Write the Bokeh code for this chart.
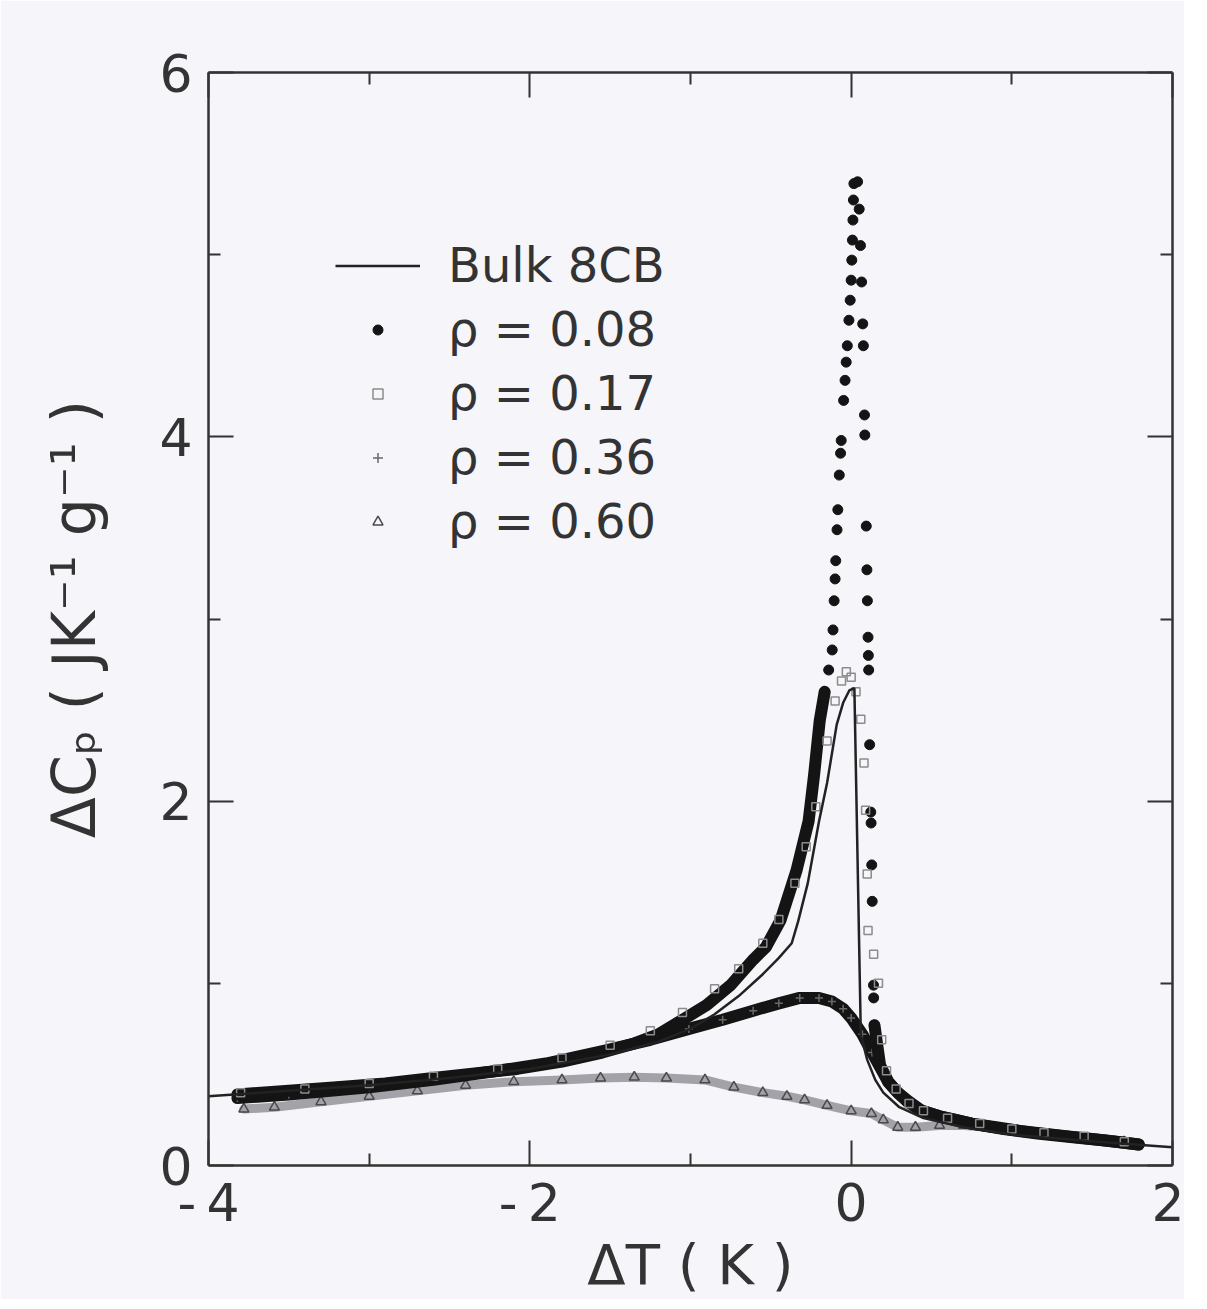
import numpy as np
from bokeh.plotting import figure
from bokeh.models import LinearAxis, FixedTicker, Legend, LegendItem, Range1d
from bokeh.embed import file_html
from bokeh.resources import INLINE

# ---------------- data ----------------
X_BULK = [-4.0, -3.5, -3.0, -2.5, -2.0, -1.5, -1.2, -1.0, -0.85, -0.7, -0.55, -0.45, -0.37, -0.33,
          -0.27, -0.2, -0.15, -0.09, -0.05, -0.01, 0.02, 0.06, 0.10, 0.15, 0.2, 0.3, 0.45, 0.7,
          1.0, 1.4, 1.7, 2.0]
Y_BULK = [0.38, 0.41, 0.44, 0.48, 0.53, 0.61, 0.68, 0.75, 0.83, 0.93, 1.05, 1.14, 1.22, 1.34,
          1.55, 1.89, 2.10, 2.42, 2.54, 2.61, 2.62, 0.72, 0.58, 0.47, 0.40, 0.32, 0.26, 0.21,
          0.17, 0.14, 0.12, 0.10]

X_008 = [-3.82, -3.5, -3.2, -2.9, -2.6, -2.3, -2.08, -1.8, -1.55, -1.35, -1.2, -1.05, -0.9, -0.75,
         -0.61, -0.53, -0.44, -0.34, -0.265, -0.23, -0.196, -0.165, -0.14,
         -0.118, -0.113, -0.106, -0.100, -0.096, -0.088, -0.083, -0.074, -0.066, -0.062, -0.047,
         -0.038, -0.031, -0.024, -0.014, -0.006, 0.000, 0.004, 0.008, 0.011, 0.014, 0.017,
         0.04, 0.05, 0.058, 0.065, 0.072, 0.076, 0.083, 0.085, 0.094, 0.098, 0.101, 0.105, 0.107,
         0.109, 0.115, 0.122, 0.124, 0.128, 0.131, 0.139, 0.14, 0.145,
         0.18, 0.23, 0.29, 0.36, 0.44, 0.55, 0.65, 0.75, 0.9, 1.05, 1.2, 1.35, 1.5, 1.65, 1.79]
Y_008 = [0.39, 0.41, 0.43, 0.45, 0.48, 0.51, 0.53, 0.57, 0.62, 0.67, 0.72, 0.80, 0.88, 0.99,
         1.13, 1.20, 1.345, 1.62, 1.89, 2.15, 2.44, 2.60, 2.72,
         2.83, 2.94, 3.10, 3.22, 3.32, 3.49, 3.60, 3.79, 3.91, 3.98, 4.20,
         4.31, 4.41, 4.50, 4.64, 4.75, 4.86, 4.97, 5.08, 5.19, 5.30, 5.39,
         5.40, 5.25, 5.05, 4.85, 4.62, 4.50, 4.12, 4.01, 3.51, 3.27, 3.10, 2.90, 2.80,
         2.72, 2.31, 1.94, 1.88, 1.65, 1.45, 0.99, 0.92, 0.77,
         0.55, 0.46, 0.40, 0.35, 0.30, 0.27, 0.25, 0.23, 0.21, 0.19, 0.175, 0.16, 0.145, 0.13, 0.115]

X_017 = [-3.80, -3.4, -3.0, -2.6, -2.2, -1.8, -1.5, -1.25, -1.05, -0.85, -0.7, -0.55, -0.45, -0.35,
         -0.28, -0.22, -0.15, -0.1, -0.06, -0.03, 0.0, 0.03, 0.06, 0.08, 0.09, 0.1, 0.105, 0.14,
         0.17, 0.19, 0.22, 0.28, 0.36, 0.45, 0.6, 0.8, 1.0, 1.2, 1.45, 1.7]
Y_017 = [0.40, 0.42, 0.45, 0.49, 0.53, 0.59, 0.66, 0.74, 0.84, 0.97, 1.08, 1.22, 1.35, 1.55,
         1.75, 1.97, 2.33, 2.55, 2.66, 2.71, 2.68, 2.60, 2.45, 2.21, 1.95, 1.60, 1.29, 1.16,
         1.00, 0.69, 0.52, 0.42, 0.34, 0.30, 0.26, 0.23, 0.20, 0.18, 0.16, 0.13]

X_036 = [-3.82, -3.5, -3.0, -2.6, -2.2, -1.9, -1.54, -1.25, -1.01, -0.8, -0.61, -0.45, -0.32, -0.2,
         -0.12, -0.05, 0.0, 0.07, 0.13, 0.18, 0.23, 0.29, 0.35, 0.44, 0.55, 0.75, 0.95, 1.16,
         1.38, 1.58, 1.79]
Y_036 = [0.37, 0.39, 0.43, 0.47, 0.52, 0.56, 0.63, 0.69, 0.75, 0.80, 0.85, 0.89, 0.92, 0.92,
         0.90, 0.86, 0.81, 0.72, 0.62, 0.54, 0.46, 0.40, 0.35, 0.30, 0.27, 0.23, 0.20, 0.176,
         0.155, 0.137, 0.115]

X_060 = [-3.78, -3.59, -3.3, -3.0, -2.7, -2.4, -2.1, -1.8, -1.56, -1.35, -1.15, -0.91, -0.73, -0.55,
         -0.4, -0.29, -0.15, 0.0, 0.126, 0.2, 0.29, 0.4, 0.55, 0.7, 0.85, 1.0, 1.2, 1.45, 1.7]
Y_060 = [0.31, 0.32, 0.35, 0.38, 0.41, 0.44, 0.46, 0.47, 0.48, 0.485, 0.48, 0.47, 0.43, 0.40,
         0.38, 0.36, 0.33, 0.30, 0.285, 0.25, 0.21, 0.21, 0.22, 0.22, 0.21, 0.19, 0.17, 0.15, 0.13]

X_TICKS = [-4, -2, 0, 2]
X_MINOR = [-3, -1, 1]
Y_TICKS = [0, 2, 4, 6]
Y_MINOR = [1, 3, 5]
X_TICK_LABELS = {-4: "-\u20094", -2: "-\u20092", 0: "0", 2: "2"}
LEGEND_LABELS = ["Bulk 8CB", "\u03c1 = 0.08", "\u03c1 = 0.17", "\u03c1 = 0.36", "\u03c1 = 0.60"]

# ---------------- figure ----------------
BG = "#f5f5fa"
INK = "#333333"
FONT = "DejaVu Sans"

p = figure(x_range=Range1d(-4, 2), y_range=Range1d(0, 6),
           frame_width=964, frame_height=1093,
           min_border_left=208, min_border_right=12, min_border_top=72, min_border_bottom=0,
           output_backend="svg", toolbar_location=None,
           background_fill_color=BG, border_fill_color=BG)
p.xgrid.visible = False
p.ygrid.visible = False
p.outline_line_color = None


def style_axis(ax):
    ax.axis_line_width = 2.5
    ax.axis_line_color = INK
    ax.major_tick_in = 25
    ax.major_tick_out = 0
    ax.minor_tick_in = 12
    ax.minor_tick_out = 0
    ax.major_tick_line_width = 2
    ax.minor_tick_line_width = 2
    ax.major_tick_line_color = INK
    ax.minor_tick_line_color = INK
    ax.major_label_text_font = FONT
    ax.major_label_text_color = INK
    ax.major_label_text_font_size = "52px"
    ax.axis_label_text_font = FONT
    ax.axis_label_text_font_style = "normal"
    ax.axis_label_text_color = INK


xa = p.xaxis[0]
xa.ticker = FixedTicker(ticks=X_TICKS, minor_ticks=X_MINOR)
style_axis(xa)
xa.major_label_overrides = X_TICK_LABELS
xa.major_label_standoff = 7
xa.axis_label = "\u0394T ( K )"
xa.axis_label_text_font_size = "56px"
xa.axis_label_standoff = -4

ya = p.yaxis[0]
ya.ticker = FixedTicker(ticks=Y_TICKS, minor_ticks=Y_MINOR)
style_axis(ya)
ya.major_label_standoff = 16
ya.axis_label = "\u0394C\u209a ( JK\u207b\u00b9 g\u207b\u00b9 )"
ya.axis_label_text_font_size = "60px"
ya.axis_label_standoff = 47

for loc, ticks, minor in (("right", Y_TICKS, Y_MINOR), ("above", X_TICKS, X_MINOR)):
    ax = LinearAxis(ticker=FixedTicker(ticks=ticks, minor_ticks=minor))
    style_axis(ax)
    ax.major_label_text_font_size = "0px"
    ax.major_label_text_alpha = 0
    ax.major_label_standoff = 0
    p.add_layout(ax, loc)

# ---------------- data glyphs ----------------
x08 = np.array(X_008)
y08 = np.array(Y_008)
band = x08 <= -0.165
tail = x08 >= 0.145

p.line(X_060, Y_060, line_width=9, line_color="#a2a2a8", line_join="round", line_cap="round")
r60 = p.scatter(X_060, Y_060, marker="triangle", size=10, fill_color=None,
                line_color="#4a4a4a", line_width=1.5)

p.line(X_036, Y_036, line_width=12, line_color="#141414", line_join="round", line_cap="round")
r36 = p.scatter(X_036, Y_036, marker="cross", size=8, line_color="#6a6a6a", line_width=1.5)

p.line(x08[band], y08[band], line_width=12, line_color="#141414", line_join="round", line_cap="round")
p.line(x08[tail], y08[tail], line_width=12, line_color="#141414", line_join="round", line_cap="round")
r08 = p.scatter(x08, y08, marker="circle", size=10, fill_color="#141414", line_color="#141414")

r17 = p.scatter(X_017, Y_017, marker="square", size=8, fill_color=None,
                line_color="#8c8c8c", line_width=1.5)

rb = p.line(X_BULK, Y_BULK, line_width=2.5, line_color="#222222")

legend = Legend(items=[LegendItem(label=LEGEND_LABELS[0], renderers=[rb]),
                       LegendItem(label=LEGEND_LABELS[1], renderers=[r08]),
                       LegendItem(label=LEGEND_LABELS[2], renderers=[r17]),
                       LegendItem(label=LEGEND_LABELS[3], renderers=[r36]),
                       LegendItem(label=LEGEND_LABELS[4], renderers=[r60])],
                location=(127, 616), glyph_width=85, glyph_height=25, label_standoff=28,
                spacing=8, padding=0, margin=0, border_line_color=None,
                background_fill_alpha=0, label_text_font=FONT, label_text_font_size="48px",
                label_text_color=INK)
p.add_layout(legend)

open("out.html", "w").write(file_html(p, INLINE))
